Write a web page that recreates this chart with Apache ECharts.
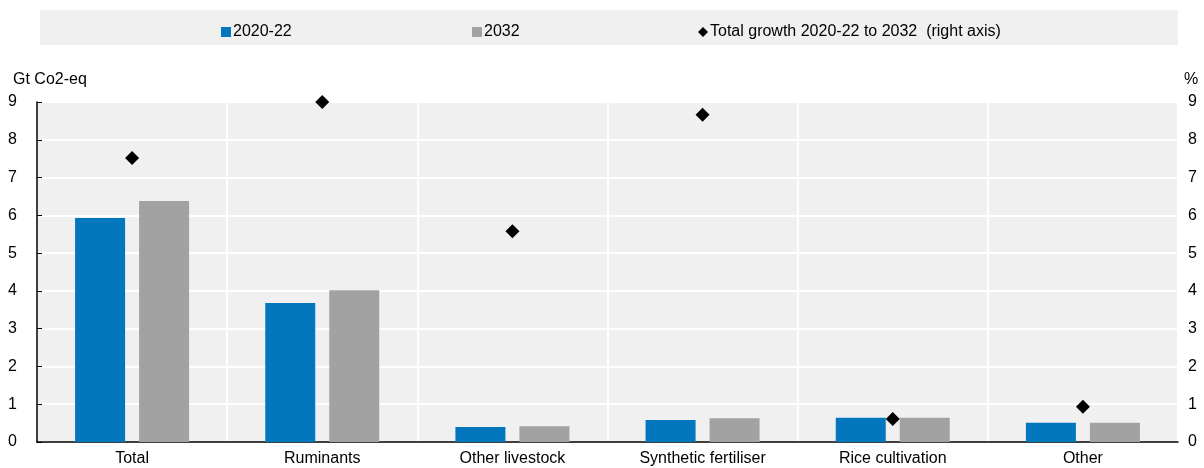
<!DOCTYPE html>
<html>
  <head>
    <meta charset="utf-8">
    <title>Emissions</title>
    <script src="https://cdn.jsdelivr.net/npm/echarts@6/dist/echarts.min.js"></script>
    <style>
      html, body { margin: 0; padding: 0; background: #fff; }
      #main { width: 1204px; height: 468px; }
    </style>
  </head>
  <body>
    <div id="main"></div>
    <script>
      // data
      const categories = ['Total', 'Ruminants', 'Other livestock', 'Synthetic fertiliser', 'Rice cultivation', 'Other'];
      const base = [5.93, 3.68, 0.40, 0.58, 0.64, 0.51];      // 2020-22
      const proj = [6.38, 4.02, 0.42, 0.63, 0.64, 0.51];      // 2032
      const growth = [7.52, 9.0, 5.58, 8.66, 0.61, 0.93];     // % right axis
      const leftTicks = [0, 9, 1];
      const rightTicks = [0, 9, 1];

      const font = 'Liberation Sans, Arial, sans-serif';
      const chart = echarts.init(document.getElementById('main'));

      const legendBase = {
        top: 19, itemWidth: 10, itemHeight: 10, itemGap: 0,
        textStyle: { fontFamily: font, fontSize: 16, color: '#000', padding: [0, 0, 0, -3] }
      };

      chart.setOption({
        animation: false,
        graphic: [
          { type: 'rect', shape: { x: 40, y: 10, width: 1138, height: 35 }, style: { fill: '#f0f0f0' }, z: -10 },
          { type: 'text', left: 13, top: 72, style: { text: 'Gt Co2-eq', font: '16px ' + font, fill: '#000' } },
          { type: 'text', left: 1184, top: 72, style: { text: '%', font: '16px ' + font, fill: '#000' } }
        ],
        legend: [
          Object.assign({ left: 216, data: [{ name: '2020-22', icon: 'rect' }] }, legendBase),
          Object.assign({ left: 467, data: [{ name: '2032', icon: 'rect' }] }, legendBase),
          Object.assign({ left: 693, data: [{ name: 'Total growth 2020-22 to 2032  (right axis)', icon: 'diamond' }] }, legendBase)
        ],
        grid: {
          left: 37, right: 26, top: 102, bottom: 26,
          show: true, backgroundColor: '#f0f0f0', borderWidth: 0
        },
        xAxis: {
          type: 'category',
          data: categories,
          axisLine: { lineStyle: { color: '#000', width: 1.5 } },
          axisTick: { inside: true, length: 5, lineStyle: { color: '#000' } },
          axisLabel: { fontFamily: font, fontSize: 16, color: '#000', margin: 9 },
          splitLine: { show: true, lineStyle: { color: '#fff', width: 2 } }
        },
        yAxis: [
          {
            type: 'value', min: leftTicks[0], max: leftTicks[1], interval: leftTicks[2],
            axisLine: { show: true, lineStyle: { color: '#000', width: 1.5 } },
            axisTick: { show: true, inside: true, length: 5, lineStyle: { color: '#000' } },
            axisLabel: { fontFamily: font, fontSize: 16, color: '#000', margin: 20 },
            splitLine: { lineStyle: { color: '#fff', width: 2 } }
          },
          {
            type: 'value', min: rightTicks[0], max: rightTicks[1], interval: rightTicks[2],
            position: 'right',
            axisLine: { show: false },
            axisTick: { show: false },
            axisLabel: { fontFamily: font, fontSize: 16, color: '#000', margin: 10 },
            splitLine: { show: false }
          }
        ],
        series: [
          {
            name: '2020-22', type: 'bar', data: base,
            barWidth: 50, barGap: '28%',
            itemStyle: { color: '#0377be' }
          },
          {
            name: '2032', type: 'bar', data: proj,
            barWidth: 50,
            itemStyle: { color: '#a2a2a2' }
          },
          {
            name: 'Total growth 2020-22 to 2032  (right axis)', type: 'scatter',
            yAxisIndex: 1, data: growth,
            symbol: 'diamond', symbolSize: 14,
            itemStyle: { color: '#000', opacity: 1 }, z: 5
          }
        ]
      });
    </script>
  </body>
</html>
